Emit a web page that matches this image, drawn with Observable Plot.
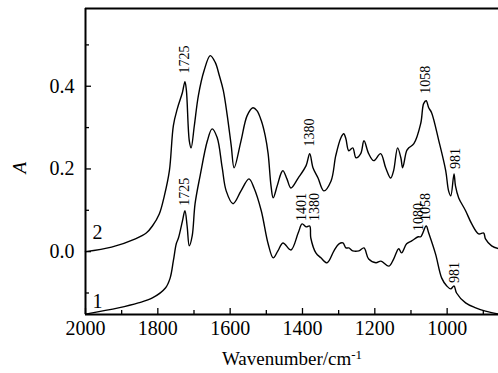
<!DOCTYPE html>
<html>
<head>
<meta charset="utf-8">
<script src="https://cdn.jsdelivr.net/npm/d3@7"></script>
<script src="https://cdn.jsdelivr.net/npm/@observablehq/plot@0.6"></script>
<style>
  html, body { margin: 0; padding: 0; background: #fff; }
  #chart svg { display: block; }
</style>
</head>
<body>
<div id="chart"></div>
<script>
// Spectrum 2 (upper)
const wn2 = [2000,1928,1862,1832,1815,1796,1782,1768,1757,1746,1732,1725,1721,1713,1708,1699,1688,1672,1655,1641,1630,1619,1608,1597,1589,1570,1553,1537,1526,1514,1503,1495,1487,1481,1470,1459,1454,1443,1432,1412,1390,1380,1371,1357,1341,1321,1308,1294,1286,1280,1272,1261,1252,1239,1230,1217,1203,1184,1170,1156,1148,1137,1128,1123,1112,1106,1092,1073,1065,1058,1051,1043,1023,1004,996,990,981,977,968,949,932,913,899,894,877,858];
const abs2 = [0.000,0.011,0.031,0.045,0.062,0.091,0.135,0.196,0.305,0.346,0.385,0.411,0.390,0.268,0.251,0.305,0.377,0.438,0.474,0.457,0.426,0.390,0.329,0.256,0.203,0.268,0.329,0.348,0.341,0.317,0.280,0.237,0.159,0.130,0.159,0.190,0.196,0.176,0.154,0.178,0.208,0.237,0.203,0.178,0.147,0.171,0.232,0.275,0.285,0.273,0.244,0.251,0.227,0.237,0.268,0.237,0.220,0.237,0.203,0.178,0.196,0.251,0.227,0.203,0.244,0.251,0.261,0.310,0.358,0.365,0.348,0.336,0.268,0.196,0.147,0.135,0.188,0.159,0.130,0.099,0.067,0.043,0.045,0.031,0.014,0.007];
// Spectrum 1 (lower)
const wn1 = [2000,1909,1854,1815,1779,1766,1757,1749,1743,1732,1725,1719,1713,1705,1697,1683,1663,1650,1636,1622,1611,1592,1570,1548,1534,1514,1495,1481,1468,1454,1432,1412,1401,1390,1380,1377,1363,1349,1332,1313,1299,1288,1280,1272,1261,1244,1230,1217,1197,1183,1161,1148,1134,1126,1112,1098,1080,1073,1058,1051,1032,1015,1001,990,981,974,949,921,894,858];
const abs1 = [-0.151,-0.136,-0.124,-0.112,-0.088,-0.064,-0.022,0.019,0.033,0.074,0.099,0.062,0.014,0.038,0.116,0.184,0.268,0.297,0.276,0.203,0.147,0.116,0.147,0.176,0.154,0.099,0.019,-0.015,0.002,0.021,0.004,0.045,0.067,0.060,0.062,0.033,-0.003,-0.015,-0.027,0.002,0.019,0.021,0.009,0.009,0.002,0.002,0.009,-0.018,-0.027,-0.023,-0.035,-0.018,0.007,-0.003,0.019,0.026,0.036,0.036,0.062,0.045,-0.006,-0.064,-0.083,-0.090,-0.083,-0.100,-0.124,-0.136,-0.144,-0.151];

// Peak annotations (label, wavenumber position, absorbance where the label starts)
const peakLabels = ["1725","1380","1058","981","1725","1401","1380","1080","1058","981"];
const peakX      = [1727, 1380, 1060, 976, 1725, 1404, 1368, 1080, 1060, 981];
const peakY      = [0.431, 0.254, 0.382, 0.200, 0.111, 0.074, 0.074, 0.050, 0.074, -0.076];

// Curve numbers
const curveNames = ["2","1"];
const curveX = [1967, 1967];
const curveY = [0.045, -0.120];

const xDomain = [2000, 858];
const yDomain = [-0.152, 0.588];
const xMajor = [2000,1800,1600,1400,1200,1000];
const xMinor = [1900,1700,1500,1300,1100,900];
const yMajor = [0.0,0.2,0.4];
const yMinor = [-0.1,0.1,0.3,0.5];

const s2 = wn2.map((w,i)=>({w, a: abs2[i]}));
const s1 = wn1.map((w,i)=>({w, a: abs1[i]}));
const ann = peakLabels.map((t,i)=>({t, x: peakX[i], y: peakY[i]}));
const cl = curveNames.map((t,i)=>({t, x: curveX[i], y: curveY[i]}));

const font = "Liberation Serif";

const chart = Plot.plot({
  width: 498,
  height: 373,
  marginLeft: 85,
  marginRight: 0,
  marginTop: 8,
  marginBottom: 59,
  style: { fontFamily: "Liberation Serif", background: "#fff", color: "#000" },
  x: { domain: xDomain, label: null },
  y: { domain: yDomain, label: null },
  marks: [
    Plot.axisX({ticks: xMajor, tickSize: -6, tickPadding: 12, fontSize: 20, fontFamily: font, tickFormat: d => String(d), label: null, strokeWidth: 1.3}),
    Plot.axisX({ticks: xMinor, tickSize: -4, text: null, label: null, strokeWidth: 1.3}),
    Plot.axisY({ticks: yMajor, tickSize: -6, tickPadding: 17, fontSize: 20, fontFamily: font, tickFormat: d3.format(".1f"), label: null, strokeWidth: 1.3}),
    Plot.axisY({ticks: yMinor, tickSize: -4, text: null, label: null, strokeWidth: 1.3}),
    Plot.ruleY([yDomain[1]], {strokeWidth: 2}),
    Plot.ruleY([yDomain[0]], {strokeWidth: 2}),
    Plot.ruleX([xDomain[0]], {strokeWidth: 2}),
    Plot.line(s2, {x: "w", y: "a", curve: "catmull-rom", strokeWidth: 1.4, stroke: "#000"}),
    Plot.line(s1, {x: "w", y: "a", curve: "catmull-rom", strokeWidth: 1.4, stroke: "#000"}),
    Plot.text(ann, {x: "x", y: "y", text: "t", rotate: -90, textAnchor: "start", lineAnchor: "middle", fontSize: 14, fontFamily: font, fill: "#000"}),
    Plot.text(cl, {x: "x", y: "y", text: "t", fontSize: 20, fontFamily: font, fill: "#000"}),
    Plot.text(["Wavenumber/cm-1"], {frameAnchor: "bottom", text: d => d, dy: 50, fontSize: 19, fontFamily: font, fill: "#000"}),
    Plot.text(["A"], {frameAnchor: "left", text: d => d, dx: -66, dy: 12, rotate: -90, fontSize: 19, fontFamily: font, fontStyle: "italic", fill: "#000"})
  ]
});

document.getElementById("chart").appendChild(chart);

// superscript for the unit
d3.select(chart).selectAll("text").each(function() {
  if (this.textContent === "Wavenumber/cm-1") {
    const t = d3.select(this);
    t.text("Wavenumber/cm");
    t.append("tspan").attr("dy", "-0.45em").attr("font-size", "13px").text("-1");
  }
});
</script>
</body>
</html>
